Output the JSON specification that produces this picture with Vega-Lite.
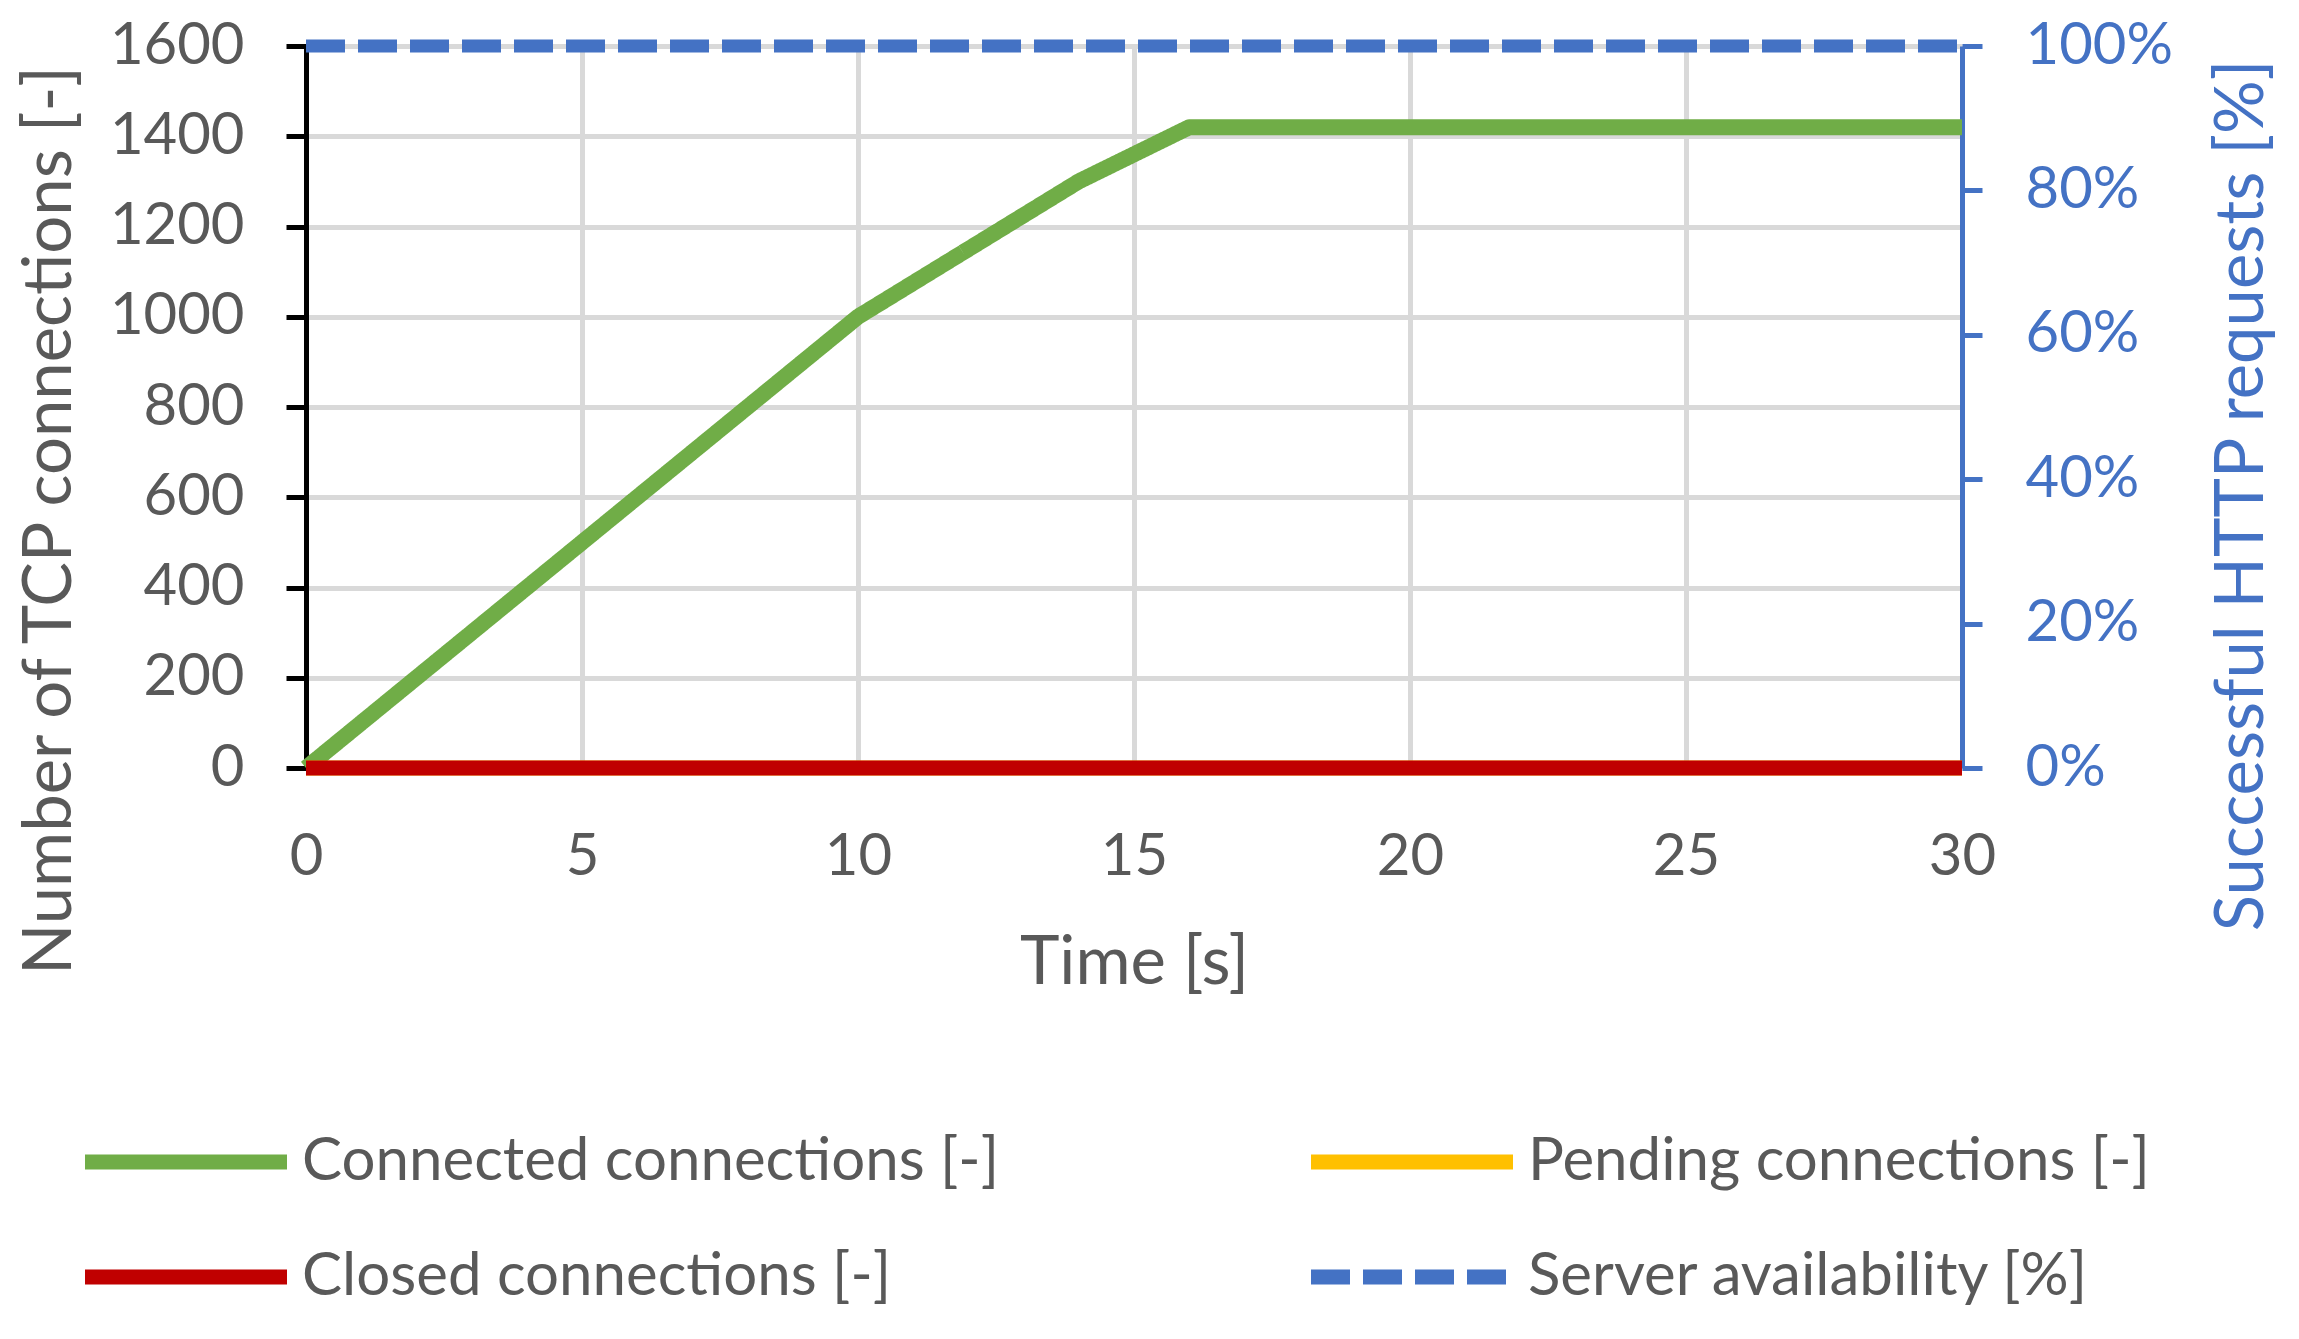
{
  "$schema": "https://vega.github.io/schema/vega-lite/v6.json",
  "width": 1656,
  "height": 722,
  "autosize": {"type": "none"},
  "padding": {"left": 306, "top": 46, "right": 337, "bottom": 571},
  "background": "white",
  "data": {
    "values": [
      {"t": 0, "series": "Connected connections [-]", "value": 0},
      {"t": 1, "series": "Connected connections [-]", "value": 100},
      {"t": 2, "series": "Connected connections [-]", "value": 200},
      {"t": 3, "series": "Connected connections [-]", "value": 300},
      {"t": 4, "series": "Connected connections [-]", "value": 400},
      {"t": 5, "series": "Connected connections [-]", "value": 500},
      {"t": 6, "series": "Connected connections [-]", "value": 600},
      {"t": 7, "series": "Connected connections [-]", "value": 700},
      {"t": 8, "series": "Connected connections [-]", "value": 800},
      {"t": 9, "series": "Connected connections [-]", "value": 900},
      {"t": 10, "series": "Connected connections [-]", "value": 1000},
      {"t": 11, "series": "Connected connections [-]", "value": 1075},
      {"t": 12, "series": "Connected connections [-]", "value": 1150},
      {"t": 13, "series": "Connected connections [-]", "value": 1225},
      {"t": 14, "series": "Connected connections [-]", "value": 1300},
      {"t": 15, "series": "Connected connections [-]", "value": 1360},
      {"t": 16, "series": "Connected connections [-]", "value": 1420},
      {"t": 17, "series": "Connected connections [-]", "value": 1420},
      {"t": 18, "series": "Connected connections [-]", "value": 1420},
      {"t": 19, "series": "Connected connections [-]", "value": 1420},
      {"t": 20, "series": "Connected connections [-]", "value": 1420},
      {"t": 21, "series": "Connected connections [-]", "value": 1420},
      {"t": 22, "series": "Connected connections [-]", "value": 1420},
      {"t": 23, "series": "Connected connections [-]", "value": 1420},
      {"t": 24, "series": "Connected connections [-]", "value": 1420},
      {"t": 25, "series": "Connected connections [-]", "value": 1420},
      {"t": 26, "series": "Connected connections [-]", "value": 1420},
      {"t": 27, "series": "Connected connections [-]", "value": 1420},
      {"t": 28, "series": "Connected connections [-]", "value": 1420},
      {"t": 29, "series": "Connected connections [-]", "value": 1420},
      {"t": 30, "series": "Connected connections [-]", "value": 1420},
      {"t": 0, "series": "Pending connections [-]", "value": 0},
      {"t": 1, "series": "Pending connections [-]", "value": 0},
      {"t": 2, "series": "Pending connections [-]", "value": 0},
      {"t": 3, "series": "Pending connections [-]", "value": 0},
      {"t": 4, "series": "Pending connections [-]", "value": 0},
      {"t": 5, "series": "Pending connections [-]", "value": 0},
      {"t": 6, "series": "Pending connections [-]", "value": 0},
      {"t": 7, "series": "Pending connections [-]", "value": 0},
      {"t": 8, "series": "Pending connections [-]", "value": 0},
      {"t": 9, "series": "Pending connections [-]", "value": 0},
      {"t": 10, "series": "Pending connections [-]", "value": 0},
      {"t": 11, "series": "Pending connections [-]", "value": 0},
      {"t": 12, "series": "Pending connections [-]", "value": 0},
      {"t": 13, "series": "Pending connections [-]", "value": 0},
      {"t": 14, "series": "Pending connections [-]", "value": 0},
      {"t": 15, "series": "Pending connections [-]", "value": 0},
      {"t": 16, "series": "Pending connections [-]", "value": 0},
      {"t": 17, "series": "Pending connections [-]", "value": 0},
      {"t": 18, "series": "Pending connections [-]", "value": 0},
      {"t": 19, "series": "Pending connections [-]", "value": 0},
      {"t": 20, "series": "Pending connections [-]", "value": 0},
      {"t": 21, "series": "Pending connections [-]", "value": 0},
      {"t": 22, "series": "Pending connections [-]", "value": 0},
      {"t": 23, "series": "Pending connections [-]", "value": 0},
      {"t": 24, "series": "Pending connections [-]", "value": 0},
      {"t": 25, "series": "Pending connections [-]", "value": 0},
      {"t": 26, "series": "Pending connections [-]", "value": 0},
      {"t": 27, "series": "Pending connections [-]", "value": 0},
      {"t": 28, "series": "Pending connections [-]", "value": 0},
      {"t": 29, "series": "Pending connections [-]", "value": 0},
      {"t": 30, "series": "Pending connections [-]", "value": 0},
      {"t": 0, "series": "Closed connections [-]", "value": 0},
      {"t": 1, "series": "Closed connections [-]", "value": 0},
      {"t": 2, "series": "Closed connections [-]", "value": 0},
      {"t": 3, "series": "Closed connections [-]", "value": 0},
      {"t": 4, "series": "Closed connections [-]", "value": 0},
      {"t": 5, "series": "Closed connections [-]", "value": 0},
      {"t": 6, "series": "Closed connections [-]", "value": 0},
      {"t": 7, "series": "Closed connections [-]", "value": 0},
      {"t": 8, "series": "Closed connections [-]", "value": 0},
      {"t": 9, "series": "Closed connections [-]", "value": 0},
      {"t": 10, "series": "Closed connections [-]", "value": 0},
      {"t": 11, "series": "Closed connections [-]", "value": 0},
      {"t": 12, "series": "Closed connections [-]", "value": 0},
      {"t": 13, "series": "Closed connections [-]", "value": 0},
      {"t": 14, "series": "Closed connections [-]", "value": 0},
      {"t": 15, "series": "Closed connections [-]", "value": 0},
      {"t": 16, "series": "Closed connections [-]", "value": 0},
      {"t": 17, "series": "Closed connections [-]", "value": 0},
      {"t": 18, "series": "Closed connections [-]", "value": 0},
      {"t": 19, "series": "Closed connections [-]", "value": 0},
      {"t": 20, "series": "Closed connections [-]", "value": 0},
      {"t": 21, "series": "Closed connections [-]", "value": 0},
      {"t": 22, "series": "Closed connections [-]", "value": 0},
      {"t": 23, "series": "Closed connections [-]", "value": 0},
      {"t": 24, "series": "Closed connections [-]", "value": 0},
      {"t": 25, "series": "Closed connections [-]", "value": 0},
      {"t": 26, "series": "Closed connections [-]", "value": 0},
      {"t": 27, "series": "Closed connections [-]", "value": 0},
      {"t": 28, "series": "Closed connections [-]", "value": 0},
      {"t": 29, "series": "Closed connections [-]", "value": 0},
      {"t": 30, "series": "Closed connections [-]", "value": 0},
      {"t": 0, "series": "Server availability [%]", "value": 1},
      {"t": 1, "series": "Server availability [%]", "value": 1},
      {"t": 2, "series": "Server availability [%]", "value": 1},
      {"t": 3, "series": "Server availability [%]", "value": 1},
      {"t": 4, "series": "Server availability [%]", "value": 1},
      {"t": 5, "series": "Server availability [%]", "value": 1},
      {"t": 6, "series": "Server availability [%]", "value": 1},
      {"t": 7, "series": "Server availability [%]", "value": 1},
      {"t": 8, "series": "Server availability [%]", "value": 1},
      {"t": 9, "series": "Server availability [%]", "value": 1},
      {"t": 10, "series": "Server availability [%]", "value": 1},
      {"t": 11, "series": "Server availability [%]", "value": 1},
      {"t": 12, "series": "Server availability [%]", "value": 1},
      {"t": 13, "series": "Server availability [%]", "value": 1},
      {"t": 14, "series": "Server availability [%]", "value": 1},
      {"t": 15, "series": "Server availability [%]", "value": 1},
      {"t": 16, "series": "Server availability [%]", "value": 1},
      {"t": 17, "series": "Server availability [%]", "value": 1},
      {"t": 18, "series": "Server availability [%]", "value": 1},
      {"t": 19, "series": "Server availability [%]", "value": 1},
      {"t": 20, "series": "Server availability [%]", "value": 1},
      {"t": 21, "series": "Server availability [%]", "value": 1},
      {"t": 22, "series": "Server availability [%]", "value": 1},
      {"t": 23, "series": "Server availability [%]", "value": 1},
      {"t": 24, "series": "Server availability [%]", "value": 1},
      {"t": 25, "series": "Server availability [%]", "value": 1},
      {"t": 26, "series": "Server availability [%]", "value": 1},
      {"t": 27, "series": "Server availability [%]", "value": 1},
      {"t": 28, "series": "Server availability [%]", "value": 1},
      {"t": 29, "series": "Server availability [%]", "value": 1},
      {"t": 30, "series": "Server availability [%]", "value": 1}
    ]
  },
  "encoding": {
    "x": {
      "field": "t", "type": "quantitative",
      "scale": {"domain": [0, 30], "nice": false},
      "axis": {
        "values": [0, 5, 10, 15, 20, 25, 30],
        "title": "Time [s]",
        "domain": false, "ticks": false, "tickSize": 0,
        "labelPadding": 60, "labelFontSize": 58, "labelColor": "#595959",
        "labelFlush": false, "labelOverlap": false,
        "grid": true, "gridColor": "#d9d9d9", "gridWidth": 5,
        "titleFontSize": 67, "titleColor": "#595959",
        "titleX": 828, "titleY": 215, "titleAlign": "center", "titleBaseline": "alphabetic"
      }
    },
    "color": {
      "field": "series", "type": "nominal",
      "scale": {
        "domain": ["Connected connections [-]", "Closed connections [-]", "Pending connections [-]", "Server availability [%]"],
        "range": ["#70AD47", "#C00000", "#FFC000", "#4472C4"]
      },
      "legend": {
        "orient": "none", "legendX": -228.5, "legendY": 1086, "columns": 2, "title": null,
        "symbolType": "stroke", "symbolSize": 40804, "symbolStrokeWidth": 15,
        "labelFontSize": 60, "labelColor": "#595959", "labelFont": "Lato", "labelOffset": 7.5,
        "labelLimit": 2000, "clipHeight": 60, "rowPadding": 55, "columnPadding": 304, "padding": 0
      }
    },
    "strokeDash": {
      "field": "series", "type": "nominal",
      "scale": {
        "domain": ["Connected connections [-]", "Closed connections [-]", "Pending connections [-]", "Server availability [%]"],
        "range": [[1, 0], [1, 0], [1, 0], [39, 13]]
      },
      "legend": {
        "orient": "none", "legendX": -228.5, "legendY": 1086, "columns": 2, "title": null,
        "symbolType": "stroke", "symbolSize": 40804, "symbolStrokeWidth": 15,
        "labelFontSize": 60, "labelColor": "#595959", "labelFont": "Lato", "labelOffset": 7.5,
        "labelLimit": 2000, "clipHeight": 60, "rowPadding": 55, "columnPadding": 304, "padding": 0
      }
    }
  },
  "layer": [
    {
      "encoding": {
        "y": {
          "field": "value", "type": "quantitative",
          "scale": {"domain": [0, 1600], "nice": false},
          "axis": {
            "orient": "left",
            "values": [0, 200, 400, 600, 800, 1000, 1200, 1400, 1600],
            "format": "d",
            "title": "Number of TCP connections [-]",
            "domainColor": "#000000", "domainWidth": 5,
            "tickColor": "#000000", "tickWidth": 5, "tickSize": 20,
            "labelPadding": 42, "labelFontSize": 58, "labelColor": "#595959",
            "labelOverlap": false, "labelFlush": false,
            "grid": true, "gridColor": "#d9d9d9", "gridWidth": 5,
            "titleFontSize": 67, "titleColor": "#595959", "titleAngle": 270,
            "titleX": -236, "titleY": 474, "titleAlign": "center", "titleBaseline": "alphabetic"
          }
        }
      },
      "layer": [
        {
          "transform": [{"filter": "datum.series === 'Connected connections [-]'"}],
          "mark": {"type": "line", "strokeWidth": 16, "strokeJoin": "round", "strokeCap": "butt"}
        },
        {
          "transform": [{"filter": "datum.series === 'Pending connections [-]'"}],
          "mark": {"type": "line", "strokeWidth": 15, "strokeJoin": "round", "strokeCap": "butt"}
        },
        {
          "transform": [{"filter": "datum.series === 'Closed connections [-]'"}],
          "mark": {"type": "line", "strokeWidth": 15, "strokeJoin": "round", "strokeCap": "butt"}
        }
      ]
    },
    {
      "transform": [{"filter": "datum.series === 'Server availability [%]'"}],
      "mark": {"type": "line", "strokeWidth": 13, "strokeCap": "butt"},
      "encoding": {
        "y": {
          "field": "value", "type": "quantitative",
          "scale": {"domain": [0, 1], "nice": false},
          "axis": {
            "orient": "right",
            "values": [0, 0.2, 0.4, 0.6, 0.8, 1],
            "format": ".0%",
            "title": "Successful HTTP requests [%]",
            "domainColor": "#4472C4", "domainWidth": 5,
            "tickColor": "#4472C4", "tickWidth": 5, "tickSize": 20,
            "labelPadding": 43, "labelFontSize": 58, "labelColor": "#4472C4",
            "labelOverlap": false, "labelFlush": false,
            "grid": false,
            "titleFontSize": 67, "titleColor": "#4472C4", "titleAngle": 270,
            "titleX": 300, "titleY": 449, "titleAlign": "center", "titleBaseline": "alphabetic"
          }
        }
      }
    }
  ],
  "resolve": {"scale": {"y": "independent"}},
  "config": {
    "font": "Lato",
    "view": {"stroke": null},
    "axis": {"labelFont": "Lato", "titleFont": "Lato", "titleFontWeight": "normal"},
    "legend": {"labelFont": "Lato"}
  }
}
